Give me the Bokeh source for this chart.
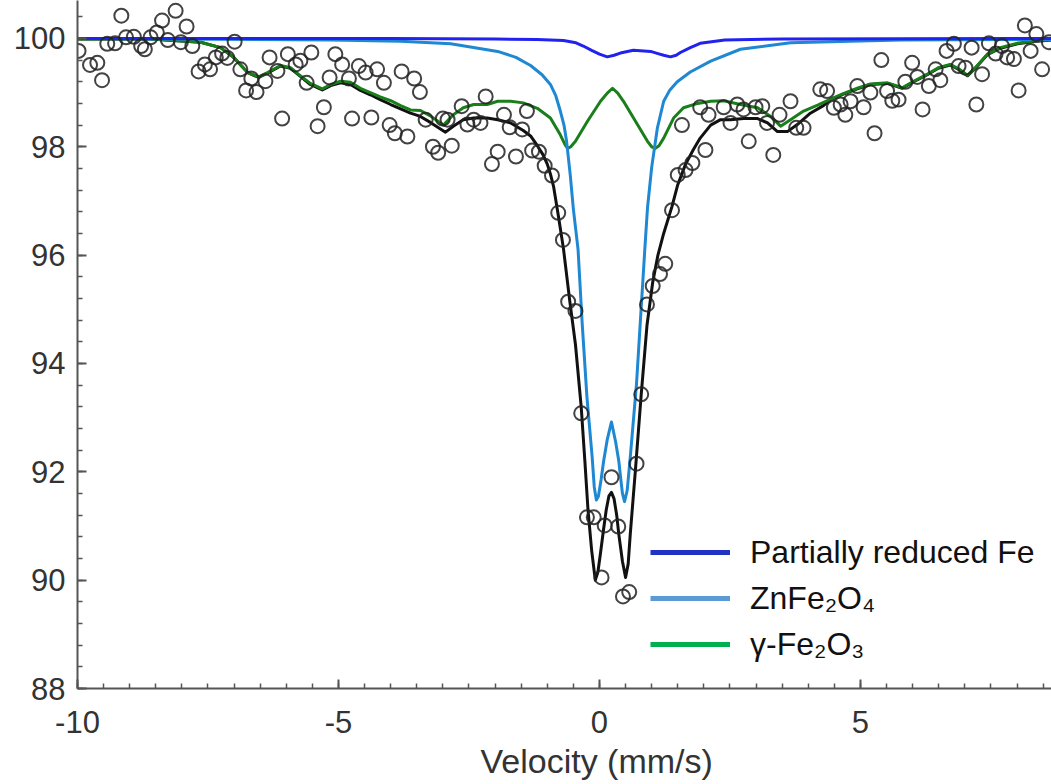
from bokeh.plotting import figure
from bokeh.models import (Range1d, FixedTicker, Legend, LegendItem, Title, ColumnDataSource)
from bokeh.embed import file_html
from bokeh.resources import INLINE
import numpy as np

# ---- measured spectrum (open circles) ----
vel = [-9.98, -9.76, -9.62, -9.53, -9.43, -9.28, -9.16, -9.07, -8.92, -8.78, -8.71, -8.60, -8.48, -8.38,
       -8.27, -8.12, -8.02, -7.91, -7.80, -7.68, -7.56, -7.46, -7.35, -7.23, -7.13, -6.99, -6.88, -6.77,
       -6.67, -6.57, -6.40, -6.32, -6.17, -6.08, -5.97, -5.82, -5.73, -5.61, -5.52, -5.40, -5.28, -5.17,
       -5.06, -4.93, -4.80, -4.74, -4.61, -4.48, -4.37, -4.26, -4.13, -4.02, -3.92, -3.79, -3.68, -3.55,
       -3.44, -3.33, -3.19, -3.09, -3.00, -2.91, -2.83, -2.64, -2.53, -2.41, -2.28, -2.18, -2.06, -1.95,
       -1.83, -1.72, -1.60, -1.48, -1.39, -1.29, -1.16, -1.05, -0.91, -0.79, -0.70, -0.60, -0.46, -0.35,
       -0.24, -0.11, 0.04, 0.10, 0.23, 0.36, 0.45, 0.57, 0.71, 0.80, 0.91, 1.02, 1.16, 1.26, 1.39, 1.50,
       1.58, 1.65, 1.78, 1.93, 2.03, 2.09, 2.38, 2.51, 2.64, 2.76, 2.86, 2.99, 3.12, 3.21, 3.33, 3.45,
       3.66, 3.77, 3.91, 4.23, 4.36, 4.49, 4.62, 4.71, 4.81, 4.94, 5.06, 5.19, 5.27, 5.40, 5.51, 5.61,
       5.73, 5.86, 5.99, 6.09, 6.19, 6.31, 6.44, 6.53, 6.65, 6.79, 6.88, 7.01, 7.13, 7.22, 7.33, 7.46,
       7.59, 7.71, 7.81, 7.94, 8.03, 8.15, 8.26, 8.37, 8.48, 8.61]
absorb = [99.77, 99.51, 99.55, 99.23, 99.90, 99.91, 100.42, 100.02, 100.03, 99.86, 99.80, 100.02, 100.11, 100.33,
          99.97, 100.51, 99.93, 100.22, 99.86, 99.39, 99.52, 99.43, 99.65, 99.72, 99.64, 99.94, 99.43, 99.04,
          99.26, 99.01, 99.21, 99.65, 99.40, 98.52, 99.71, 99.52, 99.59, 99.18, 99.74, 98.38, 98.73, 99.28,
          99.71, 99.52, 99.26, 98.52, 99.49, 99.37, 98.54, 99.43, 99.18, 98.40, 98.25, 99.39, 98.19, 99.26,
          99.01, 98.50, 98.00, 97.89, 98.52, 98.50, 98.02, 98.75, 98.41, 98.50, 98.44, 98.93, 97.68, 97.91,
          98.59, 98.36, 97.82, 98.32, 98.66, 97.93, 97.91, 97.65, 97.47, 96.78, 96.28, 95.14, 94.97, 93.08,
          91.16, 91.16, 90.05, 91.01, 91.90, 90.99, 89.70, 89.78, 92.15, 93.43, 95.09, 95.43, 95.65, 95.84, 96.83, 97.48,
          98.40, 97.57, 97.70, 98.73, 97.94, 98.59, 98.73, 98.44, 98.78, 98.69, 98.10, 98.73, 98.75, 98.44, 97.85, 98.59,
          98.84, 98.35, 98.35, 99.06, 99.03, 98.72, 98.78, 98.59, 98.84, 99.12, 98.73, 99.00, 98.25, 99.60, 99.03, 98.85,
          98.87, 99.20, 99.55, 99.29, 98.69, 99.12, 99.43, 99.23, 99.77, 99.90, 99.49, 99.46, 99.83, 98.78, 99.34, 99.91,
          99.72, 99.86, 99.65, 99.62, 99.04, 100.24, 99.77, 100.08, 99.43, 99.93]

# ---- total fit (black) ----
fit_x = [-10.0, -8.6, -7.64, -7.26, -7.01, -6.74, -6.53, -6.36, -6.11, -5.92, -5.73, -5.54, -5.31, -5.15, -4.96,
         -4.77, -4.58, -4.39, -4.2, -4.0, -3.81, -3.62, -3.43, -3.24, -2.95, -2.8, -2.61, -2.41, -2.15, -1.95,
         -1.7, -1.46, -1.32, -1.19, -1.08, -1.0, -0.94, -0.88, -0.79, -0.69, -0.57, -0.46, -0.35, -0.28, -0.22, -0.15, -0.08, -0.03,
         0.02, 0.08, 0.13, 0.18, 0.23, 0.28, 0.33, 0.37, 0.44, 0.5, 0.55, 0.59, 0.64, 0.69, 0.8, 0.91, 1.02, 1.12, 1.23, 1.39, 1.5, 1.65,
         1.8, 1.93, 2.13, 2.32, 2.51, 2.76, 3.03, 3.22, 3.41, 3.6, 3.79, 4.04, 4.29, 4.43, 4.67, 4.94, 5.19,
         5.52, 5.8, 6.02, 6.28, 6.49, 6.72, 6.88, 7.05, 7.2, 7.43, 7.68, 8.01, 8.39, 8.66]
fit_y = [99.99, 99.99, 99.93, 99.83, 99.65, 99.37, 99.28, 99.36, 99.49, 99.45, 99.3, 99.15, 99.05, 99.13, 99.18,
         99.15, 99.04, 98.96, 98.87, 98.78, 98.7, 98.62, 98.56, 98.45, 98.27, 98.38, 98.5, 98.53, 98.53, 98.5,
         98.44, 98.3, 98.2, 98.02, 97.85, 97.68, 97.5, 97.27, 96.74, 96.12, 95.16, 94.35, 93.2, 92.2, 91.3, 90.55, 90.0, 90.15,
         90.5, 90.95, 91.3, 91.55, 91.62, 91.5, 91.2, 90.85, 90.35, 90.05, 90.3, 90.85, 91.45, 92.05, 93.43, 94.7, 95.5, 96.0, 96.4, 96.9, 97.3, 97.68,
         97.95, 98.16, 98.4, 98.5, 98.5, 98.52, 98.52, 98.44, 98.28, 98.28, 98.41, 98.62, 98.76, 98.87, 98.97, 99.07, 99.15,
         99.17, 99.08, 99.2, 99.33, 99.45, 99.51, 99.43, 99.31, 99.45, 99.7, 99.82, 99.9, 99.95, 99.97]

# ---- partially reduced Fe (dark blue) ----
fe_x = [-10.0, -4.0, -2.0, -1.2, -0.69, -0.45, -0.31, -0.15, 0.0, 0.15, 0.28, 0.4, 0.65, 0.85, 0.98, 1.12,
        1.23, 1.36, 1.47, 1.55, 1.74, 1.93, 2.4, 3.5, 8.66]
fe_y = [100.0, 100.0, 99.99, 99.98, 99.96, 99.92, 99.86, 99.78, 99.71, 99.66, 99.69, 99.73, 99.78, 99.77, 99.76, 99.72,
        99.69, 99.66, 99.69, 99.74, 99.83, 99.91, 99.97, 99.99, 100.0]

# ---- ZnFe2O4 (light blue) ----
zn_x = [-10.0, -5.15, -3.81, -2.85, -1.95, -1.6, -1.32, -1.1, -0.94, -0.84, -0.75, -0.68, -0.63, -0.56, -0.5, -0.41, -0.33, -0.24, -0.14,
        -0.1, -0.06, -0.02, 0.03, 0.08, 0.15, 0.23, 0.31, 0.37, 0.41, 0.44, 0.48, 0.53, 0.59, 0.71, 0.8, 0.87, 0.92, 1.0, 1.11, 1.23,
        1.35, 1.49, 1.74, 2.13, 2.7, 3.66, 5.77, 8.66]
zn_y = [100.0, 99.97, 99.95, 99.9, 99.76, 99.65, 99.5, 99.33, 99.15, 98.95, 98.66, 98.4, 98.1, 97.48, 96.85, 96.1, 94.72, 93.38, 92.27,
        91.72, 91.48, 91.55, 91.85, 92.2, 92.6, 92.92, 92.55, 92.2, 91.85, 91.6, 91.45, 91.65, 92.27, 93.63, 95.04, 96.13, 96.87, 97.62, 98.35, 98.84,
        99.05, 99.2, 99.38, 99.58, 99.8, 99.92, 99.97, 99.98]

# ---- gamma-Fe2O3 (green) ----
gam_x = [-10.0, -8.6, -7.64, -7.26, -7.01, -6.74, -6.53, -6.36, -6.11, -5.92, -5.73, -5.54, -5.31, -5.15, -4.96,
         -4.77, -4.58, -4.39, -4.2, -4.0, -3.81, -3.62, -3.43, -3.24, -2.99, -2.8, -2.61, -2.41, -2.15, -1.95,
         -1.7, -1.46, -1.19, -0.94, -0.75, -0.66, -0.61, -0.55, -0.46, -0.23, 0.02, 0.15, 0.25, 0.35, 0.46, 0.69, 0.92, 1.0,
         1.07, 1.14, 1.23, 1.42,
         1.61, 1.88, 2.13, 2.38, 2.7, 3.03, 3.28, 3.47, 3.66, 3.91, 4.18, 4.43, 4.67, 4.94, 5.19, 5.52, 5.8,
         6.02, 6.28, 6.49, 6.72, 6.88, 7.05, 7.2, 7.43, 7.68, 8.01, 8.39, 8.66]
gam_y = [99.99, 99.99, 99.93, 99.83, 99.65, 99.37, 99.29, 99.37, 99.5, 99.46, 99.31, 99.17, 99.07, 99.15, 99.21,
         99.19, 99.08, 99.0, 98.92, 98.85, 98.76, 98.68, 98.67, 98.57, 98.4, 98.59, 98.72, 98.78, 98.78, 98.84,
         98.84, 98.81, 98.71, 98.53, 98.22, 98.04, 97.97, 98.0, 98.1, 98.47, 98.84, 98.99, 99.08, 98.99, 98.84, 98.47, 98.1, 98.0,
         97.97, 98.02, 98.16, 98.53,
         98.72, 98.8, 98.84, 98.85, 98.78, 98.72, 98.56, 98.38, 98.5, 98.66, 98.77, 98.88, 98.98, 99.08, 99.16, 99.18, 99.09,
         99.21, 99.34, 99.46, 99.52, 99.44, 99.32, 99.46, 99.71, 99.83, 99.91, 99.96, 99.97]

legend_labels = ["Partially reduced Fe", "ZnFe\u2082O\u2084", "\u03b3-Fe\u2082O\u2083"]
x_ticks = [-10, -5, 0, 5]
x_tick_labels = {-10: "-10", -5: "-5", 0: "0", 5: "5"}
y_ticks = [88, 90, 92, 94, 96, 98, 100]

FONT = "Liberation Sans"
TXT = "#333333"
AX = "#555555"

p = figure(width=1051, height=784, output_backend="svg", toolbar_location=None,
           x_range=Range1d(-10, 8.66), y_range=Range1d(88, 100.7),
           min_border_left=77, min_border_right=0, min_border_top=0, min_border_bottom=96)
p.outline_line_color = None
p.xgrid.visible = False
p.ygrid.visible = False
p.background_fill_color = "white"

# lines
p.line(fit_x, fit_y, line_color="#111111", line_width=3, line_join="round")
p.line(gam_x, gam_y, line_color="#1a7f1a", line_width=3, line_join="round")
p.line(zn_x, zn_y, line_color="#1f88d2", line_width=3, line_join="round")
p.line(fe_x, fe_y, line_color="#2222ee", line_width=3, line_join="round")
p.scatter(vel, absorb, marker="circle", size=14, fill_color=None,
          line_color="#222222", line_width=2, line_alpha=0.85)

# legend (swatch colours differ from curve colours in the original)
empty = ColumnDataSource(data=dict(x=[np.nan], y=[np.nan]))
r1 = p.line("x", "y", source=empty, line_color="#2233c4", line_width=5)
r2 = p.line("x", "y", source=empty, line_color="#5b9bd5", line_width=5)
r3 = p.line("x", "y", source=empty, line_color="#00b050", line_width=5)
legend = Legend(items=[LegendItem(label=legend_labels[0], renderers=[r1]),
                       LegendItem(label=legend_labels[1], renderers=[r2]),
                       LegendItem(label=legend_labels[2], renderers=[r3])],
                location=(573, 24), glyph_width=80, glyph_height=40, label_height=40,
                label_standoff=20, spacing=6, padding=0, margin=0,
                label_text_font=FONT, label_text_font_size="32px", label_text_color="#111111",
                border_line_alpha=0, background_fill_alpha=0)
p.add_layout(legend)

# axes
for ax in (p.xaxis[0], p.yaxis[0]):
    ax.axis_line_color = AX
    ax.axis_line_width = 2
    ax.major_tick_line_color = AX
    ax.major_tick_line_width = 2
    ax.minor_tick_line_color = AX
    ax.minor_tick_line_width = 1.5
    ax.major_tick_in = 9
    ax.major_tick_out = 0
    ax.minor_tick_in = 5
    ax.minor_tick_out = 0
    ax.major_label_text_font = FONT
    ax.major_label_text_font_size = "31px"
    ax.major_label_text_color = TXT

p.xaxis.ticker = FixedTicker(ticks=x_ticks, minor_ticks=list(np.arange(-10, 9.0, 0.5)))
p.xaxis.major_label_overrides = x_tick_labels
p.yaxis.ticker = FixedTicker(ticks=y_ticks,
                             minor_ticks=[round(v, 1) for v in np.arange(88, 100.8, 0.4)])
p.xaxis.major_label_standoff = 22
p.yaxis.major_label_standoff = 12

p.add_layout(Title(text="Velocity (mm/s)", align="left", offset=403, standoff=9,
                   text_font=FONT, text_font_size="34px", text_color=TXT,
                   text_font_style="normal"), "below")

open("out.html", "w").write(file_html(p, INLINE))
